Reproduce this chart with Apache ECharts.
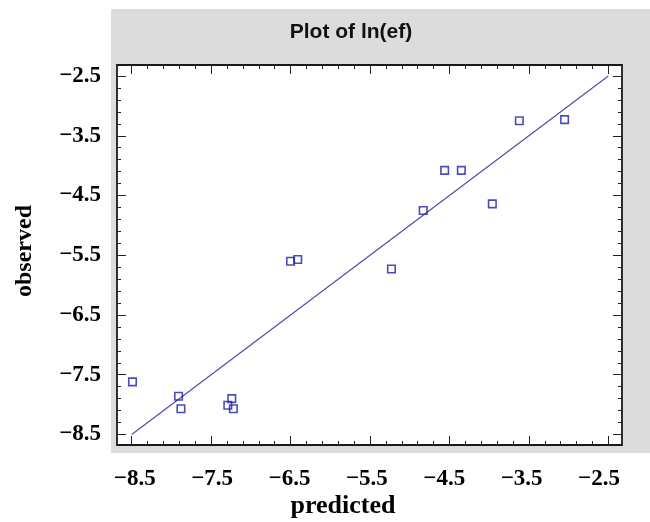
<!DOCTYPE html>
<html><head><meta charset="utf-8">
<script src="https://cdn.jsdelivr.net/npm/echarts@6/dist/echarts.min.js"></script>
<style>html,body{margin:0;padding:0;background:#fff}#c{width:650px;height:522px}</style>
</head><body><div id="c"></div>
<script>
// ---- data ----
const predicted = [-8.49, -7.91, -7.88, -7.29, -7.24, -7.22, -6.50, -6.41, -5.23, -4.83, -4.56, -4.35, -3.96, -3.62, -3.05];
const observed  = [-7.62, -7.86, -8.07, -8.01, -7.90, -8.07, -5.60, -5.57, -5.73, -4.75, -4.08, -4.08, -4.64, -3.25, -3.23];
const fitX = [-8.5, -2.5];
const fitY = [-8.5, -2.5];
const tickLabels = [-8.5, -7.5, -6.5, -5.5, -4.5, -3.5, -2.5];
const titleText = 'Plot of ln(ef)';
const xName = 'predicted';
const yName = 'observed';

// ---- layout / style ----
const minorTicks = [];
for (let i = 0; i < tickLabels.length - 1; i++)
  for (let k = 1; k < 5; k++) minorTicks.push(+(tickLabels[i] + k * 0.2).toFixed(2));

const xRange = [-8.685, -2.3275];
const yRange = [-8.676, -2.3157];
const labelXRange = [-8.7287, -2.2028];
const serif = '"Liberation Serif", "Times New Roman", serif';
const fmt = v => (v < 0 ? '\u2212' : '') + Math.abs(v).toFixed(1);

function tickAxis(pos, range, values, len, extra) {
  return Object.assign({
    type: 'value', gridIndex: 0, position: pos, min: range[0], max: range[1],
    axisLine: { show: false, onZero: false },
    splitLine: { show: false },
    axisTick: { show: true, inside: true, length: len, customValues: values, lineStyle: { color: '#222', width: 1 } },
    axisLabel: { show: false }
  }, extra || {});
}

const labelStyle = { show: true, customValues: tickLabels, formatter: fmt, fontFamily: serif, fontWeight: 'bold', fontSize: 23, color: '#000' };

const chart = echarts.init(document.getElementById('c'), null, { renderer: 'canvas' });
chart.setOption({
  animation: false,
  backgroundColor: '#fff',
  grid: { left: 117, top: 65, width: 505, height: 380, show: true, backgroundColor: '#fff', borderColor: '#1a1a1a', borderWidth: 1.8, containLabel: false, outerBoundsMode: 'none' },
  xAxis: [
    tickAxis('bottom', xRange, tickLabels, 9),
    tickAxis('bottom', xRange, minorTicks, 4),
    tickAxis('top', xRange, tickLabels, 9),
    tickAxis('top', xRange, minorTicks, 4),
    {
      type: 'value', gridIndex: 0, position: 'bottom', min: labelXRange[0], max: labelXRange[1],
      axisLine: { show: false, onZero: false }, splitLine: { show: false }, axisTick: { show: false },
      axisLabel: Object.assign({ margin: 23 }, labelStyle)
    }
  ],
  yAxis: [
    tickAxis('left', yRange, tickLabels, 9, { axisLabel: Object.assign({ margin: 16 }, labelStyle) }),
    tickAxis('left', yRange, minorTicks, 4),
    tickAxis('right', yRange, tickLabels, 9),
    tickAxis('right', yRange, minorTicks, 4)
  ],
  graphic: { elements: [
    { type: 'rect', z: -10, silent: true, shape: { x: 111, y: 9, width: 539, height: 444 }, style: { fill: '#dcdcdc' } },
    { type: 'text', x: 351, y: 32, style: { text: titleText, fontFamily: '"Liberation Sans Narrow", "Arial Narrow", "Liberation Sans", sans-serif', fontWeight: 'bold', fontSize: 21, fill: '#111', align: 'center', verticalAlign: 'middle', textAlign: 'center', textVerticalAlign: 'middle' } },
    { type: 'text', x: 343, y: 506, style: { text: xName, fontFamily: serif, fontWeight: 'bold', fontSize: 26, fill: '#000', align: 'center', verticalAlign: 'middle', textAlign: 'center', textVerticalAlign: 'middle' } },
    { type: 'text', x: 25, y: 251, rotation: Math.PI / 2, style: { text: yName, fontFamily: serif, fontWeight: 'bold', fontSize: 24, fill: '#000', align: 'center', verticalAlign: 'middle', textAlign: 'center', textVerticalAlign: 'middle' } }
  ]},
  series: [
    {
      type: 'line', xAxisIndex: 0, yAxisIndex: 0, z: 2,
      data: fitX.map((x, i) => [x, fitY[i]]),
      symbol: 'none', lineStyle: { color: '#4848b0', width: 1.1 }, silent: true
    },
    {
      type: 'scatter', xAxisIndex: 0, yAxisIndex: 0, z: 3,
      data: predicted.map((x, i) => [x, observed[i]]),
      symbol: 'rect', symbolSize: 7.5,
      itemStyle: { color: 'rgba(255,255,255,0)', borderColor: '#1e1eb0', borderWidth: 1.6 }
    }
  ]
});
</script>
</body></html>
